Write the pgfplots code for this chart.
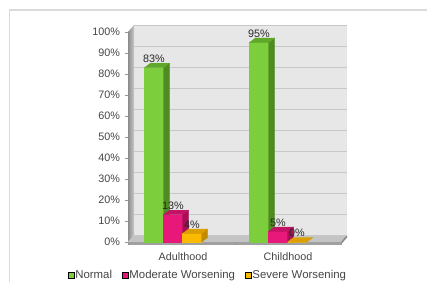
\documentclass[border=0pt]{standalone}
\usepackage{pgfplots}
\pgfplotsset{compat=1.18}
\usepackage{fontspec}
\setmainfont{Liberation Sans}
\definecolor{gF}{RGB}{124,206,60}
\definecolor{gS}{RGB}{78,140,34}
\definecolor{gT}{RGB}{96,168,42}
\definecolor{pF}{RGB}{232,24,122}
\definecolor{pS}{RGB}{166,14,86}
\definecolor{pT}{RGB}{198,18,102}
\definecolor{oF}{RGB}{250,186,0}
\definecolor{oS}{RGB}{194,138,0}
\definecolor{oT}{RGB}{220,158,0}
\definecolor{wallc}{RGB}{231,231,231}
\definecolor{gridc}{RGB}{200,200,200}
\definecolor{txt}{RGB}{70,70,70}
\definecolor{labc}{RGB}{40,40,40}
\definecolor{framec}{RGB}{218,218,218}
\definecolor{lwA}{RGB}{140,140,140}
\definecolor{lwB}{RGB}{200,200,200}
\definecolor{floorc}{RGB}{196,196,196}
\definecolor{floorf}{RGB}{160,160,160}
\definecolor{floors}{RGB}{135,135,135}
\definecolor{tickc}{RGB}{150,150,150}
\newcommand\chartfont{\fontsize{10.8bp}{13bp}\selectfont}
\newcommand\legfont{\fontsize{11.4bp}{13bp}\selectfont}
\pgfplotsset{
  bar3d/.style n args={4}{%
    forget plot, only marks, scatter, mark=square*, mark size=0.01pt,
    mark options={draw=none, fill=none},
    visualization depends on={rawy \as \rawy},
    scatter/@pre marker code/.code={%
      \scope
      \pgfmathsetmacro\hb{-2.1*\rawy}%
      \pgfmathsetmacro\hbd{-2.1*\rawy+4.5}%
      \pgfmathsetmacro\xl{#1-9.5}%
      \pgfmathsetmacro\xr{#1+9.5}%
      \pgfmathsetmacro\xld{#1-3.5}%
      \pgfmathsetmacro\xrd{#1+15.5}%
      \fill[#2] (\xl bp,\hb bp) rectangle (\xr bp,0bp);
      \fill[#3] (\xr bp,\hb bp) -- (\xrd bp,\hbd bp) -- (\xrd bp,4.5bp) -- (\xr bp,0bp) -- cycle;
      \fill[#4] (\xl bp,0bp) -- (\xld bp,4.5bp) -- (\xrd bp,4.5bp) -- (\xr bp,0bp) -- cycle;
      \node[anchor=base, inner sep=0pt, font=\chartfont, text=labc] at (#1 bp,5.5bp)
        {\pgfmathprintnumber[fixed,precision=0,assume math mode=true]{\rawy}\%};
      \clip (500bp,500bp) rectangle (501bp,501bp);
    },
    scatter/@post marker code/.code={\endscope},
  },
  legsq/.style={legend image code/.code={\fill[##1] (0bp,-3bp) rectangle (6bp,3bp);}},
}
\begin{document}
\begin{tikzpicture}
\useasboundingbox (0,0) rectangle (427bp,-282bp);
\fill[white] (0,0) rectangle (427bp,-282bp);
\draw[line width=1.6bp, framec] (9.5bp,-282bp) -- (9.5bp,-10bp) -- (427bp,-10bp);
% walls
\fill[wallc] (134bp,-25bp) rectangle (347bp,-235bp);
\shade[left color=lwA, right color=lwB]
  (128bp,-242bp) -- (134bp,-235bp) -- (134bp,-25bp) -- (128bp,-32bp) -- cycle;
\fill[floorc] (128bp,-242bp) -- (134bp,-235bp) -- (347bp,-235bp) -- (341bp,-242bp) -- cycle;
\fill[floorf] (128bp,-242bp) rectangle (341bp,-244.5bp);
\fill[floors] (341bp,-242bp) -- (347bp,-235bp) -- (347bp,-237.5bp) -- (341bp,-244.5bp) -- cycle;
\begin{axis}[
  at={(128.4bp,-242bp)}, anchor=south west,
  x=105bp, y=2.1bp,
  xmin=-0.52, xmax=1.505, ymin=0, ymax=100,
  clip=false,
  axis line style={draw=none},
  ymajorgrids,
  grid style={draw=gridc, line width=0.8bp, xshift=6bp, yshift=7bp},
  ytick={0,10,...,100},
  yticklabels={0\%,10\%,20\%,30\%,40\%,50\%,60\%,70\%,80\%,90\%,100\%},
  xtick={0,1}, xticklabels={Adulthood,Childhood},
  ytick pos=left, xtick pos=bottom,
  tick align=outside,
  major tick length=3bp,
  ytick style={draw=tickc, line width=0.6bp},
  xtick style={draw=none},
  tick label style={font=\chartfont, text=txt},
  yticklabel style={xshift=-2bp},
  xticklabel style={yshift=-4bp},
  legend columns=3,
  legend style={at={(axis cs:0.233,-16)}, anchor=center, draw=none, fill=none,
    font=\legfont, text=txt,
    /tikz/every even column/.append style={column sep=9bp},
    nodes={inner sep=1bp}},
]
\addplot[bar3d={-29}{gF}{gS}{gT}] coordinates {(0,83) (1,95)};
\addplot[bar3d={-10}{pF}{pS}{pT}] coordinates {(0,13) (1,5)};
\addplot[bar3d={9}{oF}{oS}{oT}] coordinates {(0,4) (1,0)};
\addlegendimage{legsq, fill=gF}
\addlegendentry{Normal}
\addlegendimage{legsq, fill=pF}
\addlegendentry{Moderate Worsening}
\addlegendimage{legsq, fill=oF}
\addlegendentry{Severe Worsening}
\draw[tickc, line width=0.6bp]
  (axis cs:-0.52,0) -- ++(0bp,-3bp)
  (axis cs:0.5,0) -- ++(0bp,-3bp)
  (axis cs:1.505,0) -- ++(0bp,-3bp);
\end{axis}
\end{tikzpicture}
\end{document}
